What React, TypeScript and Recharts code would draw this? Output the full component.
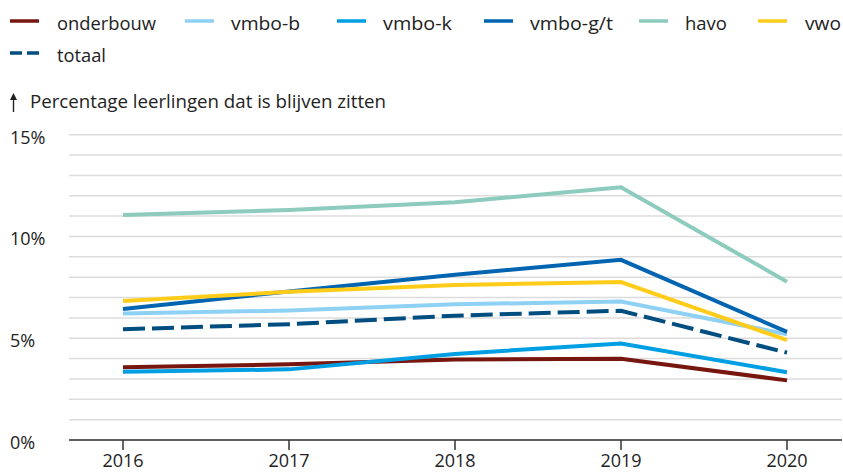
import React from 'react';
import { LineChart, Line, XAxis, YAxis, CartesianGrid } from 'recharts';

const years = ['2016', '2017', '2018', '2019', '2020'];
const onderbouw = [3.57, 3.72, 3.95, 3.99, 2.93];
const vmboB = [6.22, 6.36, 6.67, 6.8, 5.2];
const vmboK = [3.35, 3.47, 4.23, 4.74, 3.33];
const vmboGT = [6.44, 7.3, 8.12, 8.85, 5.31];
const havo = [11.05, 11.3, 11.68, 12.42, 7.78];
const vwo = [6.83, 7.28, 7.62, 7.76, 4.91];
const totaal = [5.44, 5.69, 6.11, 6.35, 4.29];
const yTicks = [0, 1, 2, 3, 4, 5, 6, 7, 8, 9, 10, 11, 12, 13, 14, 15];
const yLabelTicks = [0, 5, 10, 15];

const series = [
  { key: 'onderbouw', name: 'onderbouw', values: onderbouw, color: '#76160f', dash: undefined },
  { key: 'vmboB', name: 'vmbo-b', values: vmboB, color: '#8fd1f4', dash: undefined },
  { key: 'vmboK', name: 'vmbo-k', values: vmboK, color: '#009fe3', dash: undefined },
  { key: 'vmboGT', name: 'vmbo-g/t', values: vmboGT, color: '#0064b0', dash: undefined },
  { key: 'havo', name: 'havo', values: havo, color: '#8ccbbd', dash: undefined },
  { key: 'vwo', name: 'vwo', values: vwo, color: '#ffcc1a', dash: undefined },
  { key: 'totaal', name: 'totaal', values: totaal, color: '#004d80', dash: '22 7' },
];

const data = years.map((y, i) => {
  const row: any = { year: y };
  series.forEach((s) => {
    row[s.key] = s.values[i];
  });
  return row;
});

const legendPos = [
  { x: 10, y: 21, tx: 57, w: 99 },
  { x: 185, y: 21, tx: 231, w: 69 },
  { x: 337, y: 21, tx: 383, w: 69 },
  { x: 484, y: 21, tx: 530, w: 83 },
  { x: 639, y: 21, tx: 685, w: 42 },
  { x: 758, y: 21, tx: 805, w: 36 },
  { x: 10, y: 53, tx: 57, w: 49 },
];

const font = '"Open Sans", "Noto Sans", sans-serif';

const YTick = (props: any) => {
  const { y, payload } = props;
  if (!yLabelTicks.includes(payload.value)) return null;
  return (
    <text x={10} y={y} dy={9} textAnchor="start" fill="#222" fontSize={18} fontFamily={font}>
      {payload.value + '%'}
    </text>
  );
};

export default function App() {
  return (
    <div style={{ position: 'absolute', left: 0, top: 0, width: 843, height: 472 }}>
      <LineChart
        width={843}
        height={472}
        data={data}
        margin={{ top: 134.7, right: 1, bottom: 0, left: 0 }}
      >
        <CartesianGrid vertical={false} stroke="#dcdcdc" strokeWidth={1.5} />
        <XAxis
          dataKey="year"
          padding={{ left: 54, right: 55 }}
          axisLine={{ stroke: '#333', strokeWidth: 1.5 }}
          tickLine={{ stroke: '#333', strokeWidth: 1.5 }}
          tickSize={10}
          tickMargin={4}
          height={32}
          tick={{ fill: '#222', fontSize: 18, fontFamily: font }}
        />
        <YAxis
          domain={[0, 15]}
          ticks={yTicks}
          interval={0}
          width={69}
          axisLine={false}
          tickLine={false}
          tick={<YTick />}
        />
        {series.map((s) => (
          <Line
            key={s.key}
            dataKey={s.key}
            name={s.name}
            type="linear"
            stroke={s.color}
            strokeWidth={4}
            strokeDasharray={s.dash}
            dot={false}
            activeDot={false}
            isAnimationActive={false}
          />
        ))}
      </LineChart>
      <svg
        width={843}
        height={120}
        style={{ position: 'absolute', left: 0, top: 0, pointerEvents: 'none' }}
      >
        {series.map((s, i) => {
          const p = legendPos[i];
          return (
            <g key={s.key}>
              <line
                x1={p.x}
                x2={p.x + 29}
                y1={p.y}
                y2={p.y}
                stroke={s.color}
                strokeWidth={3.5}
                strokeDasharray={s.dash ? '12 5' : undefined}
              />
              <text
                x={p.tx}
                y={p.y + 9}
                fontSize={18}
                fontFamily={font}
                fill="#222"
                textLength={p.w}
                lengthAdjust="spacingAndGlyphs"
              >
                {s.name}
              </text>
            </g>
          );
        })}
        <line x1={13.5} x2={13.5} y1={97} y2={112} stroke="#222" strokeWidth={1.4} />
        <path d="M10 100 L13.5 93 L17 100 Z" fill="#222" />
        <text
          x={30}
          y={108}
          fontSize={17.5}
          fontFamily={font}
          fill="#222"
          textLength={356}
          lengthAdjust="spacingAndGlyphs"
        >
          Percentage leerlingen dat is blijven zitten
        </text>
      </svg>
    </div>
  );
}
